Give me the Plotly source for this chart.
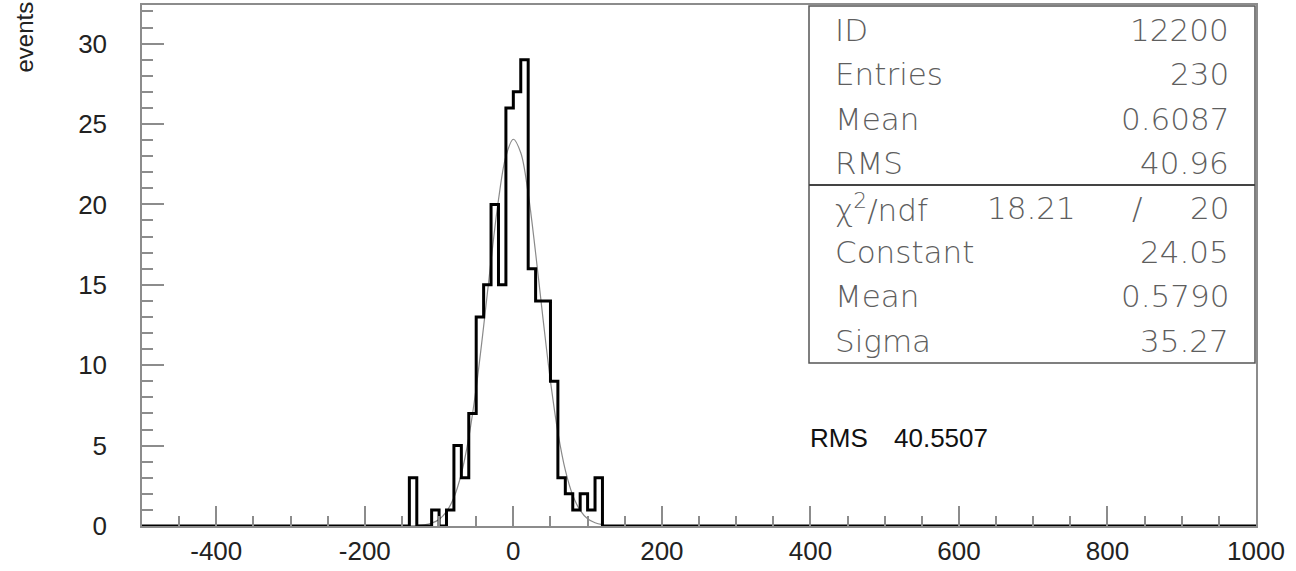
import plotly.graph_objects as go

# ---------------- data ----------------
X_MIN, X_MAX, BIN_W = -500, 1000, 10
BIN_LOW = [-140, -110, -90, -80, -70, -60, -50, -40, -30, -20, -10, 0, 10, 20,
           30, 40, 50, 60, 70, 80, 90, 100, 110]
COUNTS = [3, 1, 1, 5, 3, 7, 13, 15, 20, 15, 26, 27, 29, 16,
          14, 14, 9, 3, 2, 1, 2, 1, 3]

# Gaussian fit curve
FIT_X = [-140, -130, -120, -110, -100, -90, -80, -70, -60, -50, -40, -30, -20, -10,
         0, 10, 20, 30, 40, 50, 60, 70, 80, 90, 100, 110, 120]
FIT_Y = [0.01, 0.03, 0.07, 0.18, 0.41, 0.89, 1.77, 3.25, 5.50, 8.60, 12.41, 16.51,
         20.29, 22.99, 24.05, 23.21, 20.67, 16.98, 12.88, 9.01, 5.82, 3.47, 1.91,
         0.97, 0.45, 0.20, 0.08]

X_TICK_VALS = [-400, -200, 0, 200, 400, 600, 800, 1000]
X_TICK_TEXT = ["-400", "-200", "0", "200", "400", "600", "800", "1000"]

STAT_LABELS = ["ID", "Entries", "Mean", "RMS"]
STAT_VALUES = ["12200", "230", "0.6087", "40.96"]
FIT_LABELS = ["\u03c7<sup>2</sup>/ndf", "Constant", "Mean", "Sigma"]
FIT_VALUES = ["20", "24.05", "0.5790", "35.27"]
CHI2_VALUE = "18.21"
RMS_TEXT_LABEL = "RMS"
RMS_TEXT_VALUE = "40.5507"
Y_TITLE = "events"

# ---------------- build full histogram ----------------
nb = (X_MAX - X_MIN) // BIN_W
full = [0] * nb
for lo, c in zip(BIN_LOW, COUNTS):
    full[(lo - X_MIN) // BIN_W] = c
edges = [X_MIN + i * BIN_W for i in range(nb + 1)]
step_y = full + [full[-1]]

# ---------------- layout geometry ----------------
W, H = 1296, 571
L, R, T, B = 142, 40, 5, 45
PW, PH = W - L - R, H - T - B


def px_x(px):
    return (px - L) / PW


def px_y(py):
    return (T + PH - py) / PH


fig = go.Figure()
fig.add_trace(go.Scatter(x=FIT_X, y=FIT_Y, mode="lines", line_shape="spline",
                         line=dict(color="#8a8a8a", width=1.2), hoverinfo="skip"))
fig.add_trace(go.Scatter(x=edges, y=step_y, mode="lines", line_shape="hv",
                         line=dict(color="black", width=3), hoverinfo="skip"))

axis_common = dict(showgrid=False, zeroline=False, showline=True, linecolor="#8c8c8c",
                   linewidth=1.5, mirror=True, ticks="inside", tickcolor="#8c8c8c",
                   tickwidth=1.5, automargin=False,
                   tickfont=dict(family="Liberation Sans, Arial, sans-serif", size=26,
                                 color="#222"))
fig.update_xaxes(range=[X_MIN, X_MAX], tickmode="array", tickvals=X_TICK_VALS,
                 ticktext=X_TICK_TEXT, ticklen=20, ticklabelstandoff=1,
                 minor=dict(ticks="inside", dtick=50, tick0=0, ticklen=10,
                            tickcolor="#8c8c8c", tickwidth=1.5, showgrid=False),
                 **axis_common)
fig.update_yaxes(range=[0, 32.4], dtick=5, tick0=0, ticklen=22,
                 ticklabelstandoff=28,
                 minor=dict(ticks="inside", dtick=1, ticklen=11, tickcolor="#8c8c8c",
                            tickwidth=1.5, showgrid=False),
                 **axis_common)

shapes = [
    dict(type="rect", xref="paper", yref="paper", x0=px_x(809), x1=px_x(1255),
         y0=px_y(363), y1=px_y(6), line=dict(color="#555", width=1.5),
         fillcolor="white", layer="above"),
    dict(type="line", xref="paper", yref="paper", x0=px_x(809), x1=px_x(1255),
         y0=px_y(185), y1=px_y(185), line=dict(color="#444", width=2), layer="above"),
]

stat_font = dict(family="DejaVu Sans", size=31, color="#5e5e5e", weight=200)
ann = []
row_y = [30 + 44.4 * i for i in range(8)]
labels = STAT_LABELS + FIT_LABELS
values = STAT_VALUES + FIT_VALUES
for i, (lab, val) in enumerate(zip(labels, values)):
    ann.append(dict(xref="paper", yref="paper", x=px_x(833), y=px_y(row_y[i]),
                    xanchor="left", yanchor="middle", text=lab, showarrow=False,
                    font=stat_font))
    ann.append(dict(xref="paper", yref="paper", x=px_x(1231), y=px_y(row_y[i]),
                    xanchor="right", yanchor="middle", text=val, showarrow=False,
                    font=stat_font))
ann.append(dict(xref="paper", yref="paper", x=px_x(1078), y=px_y(row_y[4]),
                xanchor="right", yanchor="middle", text=CHI2_VALUE, showarrow=False,
                font=stat_font))
ann.append(dict(xref="paper", yref="paper", x=px_x(1137), y=px_y(row_y[4]),
                xanchor="center", yanchor="middle", text="/", showarrow=False,
                font=stat_font))

txt_font = dict(family="Liberation Sans, Arial, sans-serif", size=26, color="#111")
ann.append(dict(xref="paper", yref="paper", x=px_x(808), y=px_y(438),
                xanchor="left", yanchor="middle", text=RMS_TEXT_LABEL, showarrow=False,
                font=txt_font))
ann.append(dict(xref="paper", yref="paper", x=px_x(892), y=px_y(438),
                xanchor="left", yanchor="middle", text=RMS_TEXT_VALUE, showarrow=False,
                font=txt_font))
ann.append(dict(xref="paper", yref="paper", x=px_x(24), y=px_y(0),
                xanchor="center", yanchor="top", text=Y_TITLE, textangle=-90,
                showarrow=False,
                font=dict(family="Liberation Sans, Arial, sans-serif", size=24,
                          color="#222")))

fig.update_layout(width=W, height=H, margin=dict(l=L, r=R, t=T, b=B),
                  plot_bgcolor="white", paper_bgcolor="white", showlegend=False,
                  shapes=shapes, annotations=ann)

fig.write_html("out.html", config={"displayModeBar": False},
               post_script="document.body.style.margin='0';")
